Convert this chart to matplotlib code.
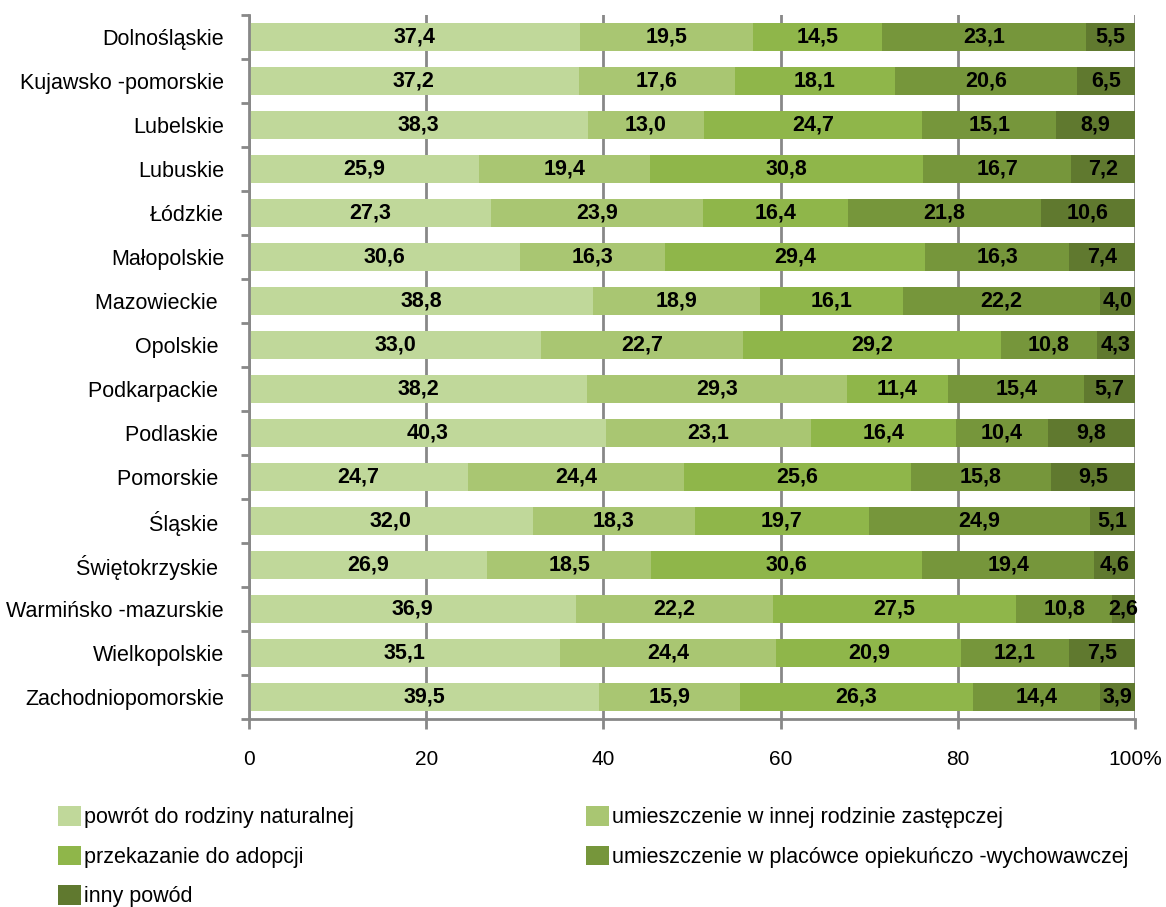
import numpy as np
import matplotlib.pyplot as plt
from matplotlib.ticker import FixedLocator
from matplotlib.patches import Patch

plt.rcParams["font.family"] = ["Liberation Sans", "DejaVu Sans"]

regions = [
    "Dolnośląskie", "Kujawsko -pomorskie", "Lubelskie", "Lubuskie", "Łódzkie",
    "Małopolskie", "Mazowieckie ", "Opolskie ", "Podkarpackie ", "Podlaskie ",
    "Pomorskie ", "Śląskie ", "Świętokrzyskie ", "Warmińsko -mazurskie", "Wielkopolskie",
    "Zachodniopomorskie",
]
series_names = [
    "powrót do rodziny naturalnej",
    "umieszczenie w innej rodzinie zastępczej",
    "przekazanie do adopcji",
    "umieszczenie w placówce opiekuńczo -wychowawczej",
    "inny powód",
]
powrot = [37.4, 37.2, 38.3, 25.9, 27.3, 30.6, 38.8, 33.0, 38.2, 40.3, 24.7, 32.0, 26.9, 36.9, 35.1, 39.5]
inna_rodzina = [19.5, 17.6, 13.0, 19.4, 23.9, 16.3, 18.9, 22.7, 29.3, 23.1, 24.4, 18.3, 18.5, 22.2, 24.4, 15.9]
adopcja = [14.5, 18.1, 24.7, 30.8, 16.4, 29.4, 16.1, 29.2, 11.4, 16.4, 25.6, 19.7, 30.6, 27.5, 20.9, 26.3]
placowka = [23.1, 20.6, 15.1, 16.7, 21.8, 16.3, 22.2, 10.8, 15.4, 10.4, 15.8, 24.9, 19.4, 10.8, 12.1, 14.4]
inny = [5.5, 6.5, 8.9, 7.2, 10.6, 7.4, 4.0, 4.3, 5.7, 9.8, 9.5, 5.1, 4.6, 2.6, 7.5, 3.9]
x_ticks = [0, 20, 40, 60, 80, 100]
x_labels = ["0", "20", "40", "60", "80", "100%"]

colors = ["#C0D89A", "#A9C672", "#8FB64A", "#76963B", "#60792F"]
data = np.array([powrot, inna_rodzina, adopcja, placowka, inny])

fig = plt.figure(figsize=(11.66, 9.07), dpi=100)
ax = fig.add_axes([0.2136, 0.2073, 0.7598, 0.7762])

y = np.arange(len(regions))
left = np.zeros(len(regions))
for vals, col in zip(data, colors):
    ax.barh(y, vals, left=left, height=0.64, color=col, zorder=2)
    for yi, (l, v) in enumerate(zip(left, vals)):
        ax.text(l + v / 2, yi, f"{v:.1f}".replace(".", ","), ha="center", va="center",
                fontsize=15.5, fontweight="bold", color="black", zorder=3)
    left += vals

ax.set_ylim(len(regions) - 0.5, -0.5)
ax.set_xlim(0, 100)
ax.set_yticks(y)
ax.set_yticklabels(regions, fontsize=15.5)
ax.yaxis.set_minor_locator(FixedLocator(np.arange(-0.5, len(regions), 1)))
ax.tick_params(axis="y", which="major", length=0, pad=18)
ax.tick_params(axis="y", which="minor", length=6, width=2, color="#888888", direction="out")
ax.set_xticks(x_ticks)
ax.set_xticklabels(x_labels, fontsize=15)
ax.tick_params(axis="x", length=7, width=2, color="#888888", pad=15)

ax.grid(axis="x", color="#888888", linewidth=2, zorder=0)
ax.set_axisbelow(True)
for s in ["top", "right"]:
    ax.spines[s].set_visible(False)
for s in ["left", "bottom"]:
    ax.spines[s].set_color("#888888")
    ax.spines[s].set_linewidth(2)

# row-major order for the two-column legend
order = [0, 2, 4, 1, 3]
handles = [Patch(facecolor=colors[i], edgecolor="none") for i in order]
labels = [series_names[i] for i in order]
fig.legend(handles, labels, loc="upper left", bbox_to_anchor=(0.0497, 0.1114),
           ncol=2, frameon=False, fontsize=15.5, handlelength=1.05, handleheight=1.05,
           handletextpad=0.15, columnspacing=10.8, labelspacing=0.8,
           borderpad=0, borderaxespad=0)

fig.savefig("out.png", dpi=100)
